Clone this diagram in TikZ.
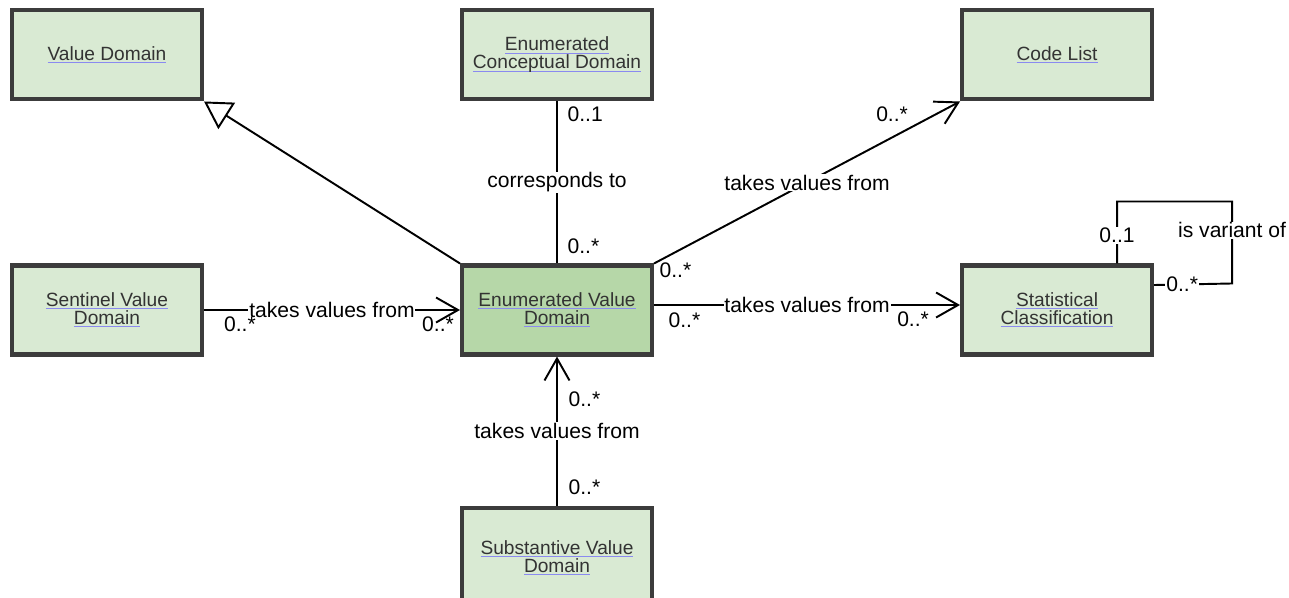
\documentclass[tikz,border=0pt]{standalone}
\usepackage{fontspec}
\setmainfont{Liberation Sans}
\usepackage{tikz}
\usetikzlibrary{arrows.meta,positioning}
\usepackage{xcolor}
\definecolor{boxgreen}{HTML}{D9EAD3}
\definecolor{boxgreendark}{HTML}{B6D7A8}
\definecolor{boxborder}{HTML}{3C3C3C}
\definecolor{boxtext}{HTML}{333333}
\definecolor{linkblue}{HTML}{8A8AF0}
\newsavebox{\lnkbox}
\newcommand{\lnk}[1]{\leavevmode\sbox{\lnkbox}{#1}\rlap{\textcolor{linkblue}{\rule[-1.6pt]{\wd\lnkbox}{0.6pt}}}\usebox{\lnkbox}}

\begin{document}
\begin{tikzpicture}[
    umlbox/.style={rectangle, draw=boxborder, line width=2.3pt, fill=boxgreen,
        minimum width=3.8cm, minimum height=1.78cm, align=center, text=boxtext,
        font=\fontsize{10.9}{10.2}\selectfont},
    arr/.style={-{Straight Barb[length=0.44cm, width=0.5cm]}, line width=1.1pt},
    gen/.style={-{Triangle[open, length=0.54cm, width=0.62cm]}, line width=1.1pt},
    assoc/.style={line width=1.1pt},
    lbl/.style={fill=white, inner sep=0.5pt, font=\fontsize{12}{14}\selectfont},
    mult/.style={inner sep=1pt, font=\fontsize{12}{14}\selectfont}
]
    \useasboundingbox (0,0) rectangle (25.78,-11.94);

    \node[umlbox, fill=boxgreendark] (EVD) at (11.14,-6.2) {\lnk{Enumerated Value}\\\lnk{Domain}};
    \node[umlbox, left=5.12cm of EVD] (SVD) {\lnk{Sentinel Value}\\\lnk{Domain}};
    \node[umlbox, right=6.12cm of EVD] (SC) {\lnk{Statistical}\\\lnk{Classification}};
    \node[umlbox, above=3.24cm of EVD] (ECD) {\lnk{Enumerated}\\\lnk{Conceptual Domain}};
    \node[umlbox, above=3.24cm of SVD] (VD) {\lnk{Value Domain}};
    \node[umlbox, above=3.24cm of SC] (CL) {\lnk{Code List}};
    \node[umlbox, minimum height=2.0cm, below=2.98cm of EVD] (SubVD) {\lnk{Substantive Value}\\\lnk{Domain}};

    \draw[gen] (EVD.north west) -- (VD.south east);
    \draw[assoc] (EVD.north) -- node[lbl] (corr) {corresponds to} (ECD.south);
    \draw[arr] (EVD.north east) -- node[lbl] (tvfCL) {takes values from} (CL.south west);
    \draw[arr] (SVD.east) -- node[lbl] (tvfSVD) {takes values from} (EVD.west);
    \draw[arr] ([yshift=0.1cm]EVD.east) -- node[lbl] (tvfSC) {takes values from} ([yshift=0.1cm]SC.west);
    \draw[arr] (SubVD.north) -- node[lbl] (tvfSub) {takes values from} (EVD.south);
    \draw[assoc] ([xshift=1.2cm]SC.north) -- node[lbl, pos=0.45] (mSCtop) {0..1} ++(0,1.24)
        -- ++(2.3,0) -- node[lbl, pos=0.35] (variant) {is variant of} ++(0,-1.64)
        -- node[lbl, pos=0.64] (mSCright) {0..*} ([yshift=0.5cm]SC.east);

    \node[mult, anchor=west] (mECD) at ([xshift=0.17cm, yshift=-0.26cm]ECD.south) {0..1};
    \node[mult, anchor=west] (mEVDn) at ([xshift=0.17cm, yshift=0.34cm]EVD.north) {0..*};
    \node[mult, anchor=east] (mCL) at ([xshift=-1.0cm, yshift=-0.26cm]CL.south west) {0..*};
    \node[mult, anchor=west] (mEVDne) at ([xshift=0.07cm, yshift=-0.14cm]EVD.north east) {0..*};
    \node[mult, anchor=west] (mSVD) at ([xshift=0.36cm, yshift=-0.28cm]SVD.east) {0..*};
    \node[mult, anchor=east] (mEVDw) at ([xshift=-0.08cm, yshift=-0.28cm]EVD.west) {0..*};
    \node[mult, anchor=west] (mEVDe) at ([xshift=0.25cm, yshift=-0.2cm]EVD.east) {0..*};
    \node[mult, anchor=east] (mSC) at ([xshift=-0.58cm, yshift=-0.18cm]SC.west) {0..*};
    \node[mult, anchor=west] (mEVDs) at ([xshift=0.19cm, yshift=-0.86cm]EVD.south) {0..*};
    \node[mult, anchor=west] (mSub) at ([xshift=0.19cm, yshift=0.36cm]SubVD.north) {0..*};
\end{tikzpicture}
\end{document}
